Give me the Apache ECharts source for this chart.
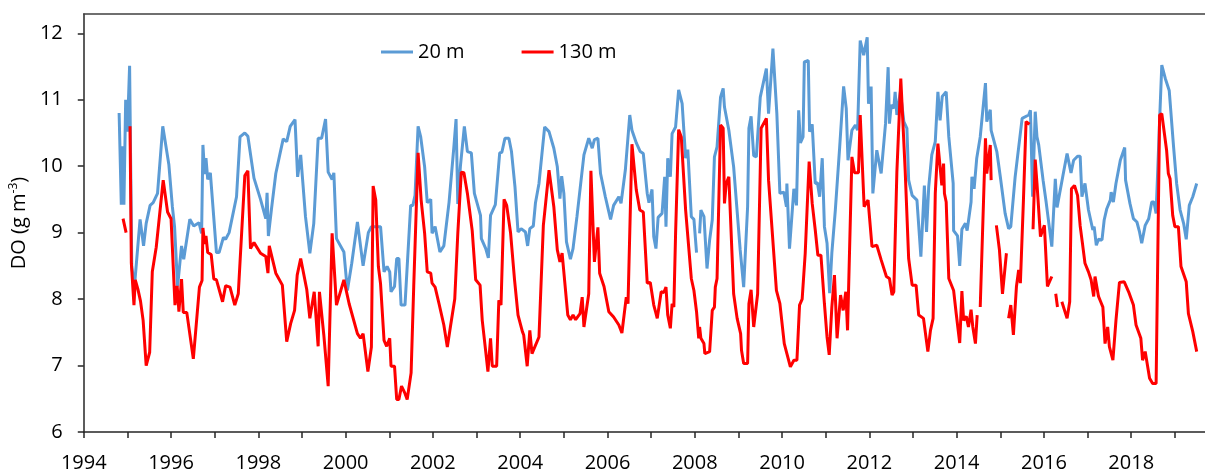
<!DOCTYPE html>
<html>
<head>
<meta charset="utf-8">
<title>DO</title>
<script src="https://cdn.jsdelivr.net/npm/echarts@6/dist/echarts.min.js"></script>
<style>
  html, body { margin: 0; padding: 0; background: #fff; }
  #chart { width: 1205px; height: 473px; }
</style>
</head>
<body>
<div id="chart"></div>
<script>
// Dissolved oxygen at two depths (g m-3), sampled through time (decimal year)
const seriesNames = ['20 m', '130 m'];

const t20 = [
  1994.81, 1994.86, 1994.88, 1994.92, 1994.96, 1995.00, 1995.05, 1995.10, 1995.16, 1995.29,
  1995.37, 1995.43, 1995.52, 1995.59, 1995.69, 1995.81, 1995.95, 1996.03, 1996.08, 1996.15,
  1996.24, 1996.29, 1996.43, 1996.52, 1996.64, 1996.70, 1996.73, 1996.77, 1996.80, 1996.84,
  1996.90, 1997.04, 1997.10, 1997.20, 1997.25, 1997.33, 1997.50, 1997.58, 1997.69, 1997.76,
  1997.90, 1998.05, 1998.17, 1998.20, 1998.23, 1998.30, 1998.40, 1998.50, 1998.57, 1998.65,
  1998.73, 1998.84, 1998.90, 1998.97, 1999.08, 1999.18, 1999.27, 1999.37, 1999.45, 1999.54,
  1999.60, 1999.69, 1999.73, 1999.79, 1999.96, 2000.04, 2000.14, 2000.27, 2000.40, 2000.52,
  2000.59, 2000.80, 2000.88, 2000.95, 2001.01, 2001.04, 2001.12, 2001.17, 2001.22, 2001.27,
  2001.36, 2001.49, 2001.54, 2001.59, 2001.66, 2001.72, 2001.81, 2001.87, 2001.95, 2001.98,
  2002.05, 2002.16, 2002.25, 2002.37, 2002.48, 2002.53, 2002.57, 2002.63, 2002.72, 2002.79,
  2002.88, 2002.95, 2003.09, 2003.11, 2003.21, 2003.27, 2003.32, 2003.43, 2003.53, 2003.58,
  2003.65, 2003.74, 2003.80, 2003.88, 2003.95, 2004.02, 2004.12, 2004.17, 2004.22, 2004.30,
  2004.35, 2004.43, 2004.56, 2004.66, 2004.77, 2004.85, 2004.91, 2004.95, 2005.00, 2005.06,
  2005.15, 2005.21, 2005.30, 2005.46, 2005.57, 2005.65, 2005.70, 2005.78, 2005.84, 2005.95,
  2006.07, 2006.14, 2006.26, 2006.31, 2006.41, 2006.51, 2006.56, 2006.66, 2006.75, 2006.82,
  2006.91, 2006.95, 2007.02, 2007.06, 2007.11, 2007.16, 2007.25, 2007.31, 2007.34, 2007.38,
  2007.44, 2007.48, 2007.56, 2007.63, 2007.71, 2007.79, 2007.84, 2007.92, 2007.98, 2008.04,
  2008.07, 2008.11, 2008.14, 2008.21, 2008.28, 2008.34, 2008.40, 2008.45, 2008.51, 2008.59,
  2008.65, 2008.68, 2008.72, 2008.78, 2008.89, 2009.04, 2009.12, 2009.21, 2009.24, 2009.29,
  2009.35, 2009.41, 2009.50, 2009.64, 2009.69, 2009.79, 2009.88, 2009.95, 2010.04, 2010.10,
  2010.11, 2010.17, 2010.27, 2010.33, 2010.38, 2010.42, 2010.48, 2010.51, 2010.60, 2010.63,
  2010.69, 2010.76, 2010.81, 2010.86, 2010.92, 2010.97, 2011.03, 2011.09, 2011.14, 2011.22,
  2011.32, 2011.41, 2011.47, 2011.51, 2011.60, 2011.68, 2011.73, 2011.79, 2011.87, 2011.95,
  2011.98, 2012.04, 2012.08, 2012.17, 2012.27, 2012.37, 2012.43, 2012.46, 2012.50, 2012.56,
  2012.59, 2012.63, 2012.71, 2012.79, 2012.86, 2012.90, 2012.98, 2013.09, 2013.18, 2013.26,
  2013.31, 2013.36, 2013.40, 2013.43, 2013.51, 2013.57, 2013.62, 2013.67, 2013.76, 2013.82,
  2013.92, 2013.93, 2014.02, 2014.07, 2014.12, 2014.16, 2014.20, 2014.24, 2014.33, 2014.35,
  2014.40, 2014.46, 2014.54, 2014.66, 2014.69, 2014.77, 2014.79, 2014.92, 2015.00, 2015.11,
  2015.19, 2015.24, 2015.34, 2015.50, 2015.65, 2015.69, 2015.74, 2015.80, 2015.84, 2015.88,
  2015.98, 2016.05, 2016.18, 2016.26, 2016.30, 2016.34, 2016.43, 2016.53, 2016.56, 2016.62,
  2016.68, 2016.72, 2016.77, 2016.83, 2016.87, 2016.94, 2017.02, 2017.12, 2017.15, 2017.20,
  2017.25, 2017.33, 2017.38, 2017.44, 2017.52, 2017.54, 2017.59, 2017.65, 2017.75, 2017.85,
  2017.87, 2017.97, 2018.05, 2018.13, 2018.19, 2018.24, 2018.32, 2018.40, 2018.47, 2018.52,
  2018.57, 2018.65, 2018.70, 2018.78, 2018.87, 2018.97, 2019.04, 2019.12, 2019.20, 2019.26,
  2019.33, 2019.41, 2019.50
];
const do20 = [
  10.80, 9.42, 10.30, 9.42, 11.00, 10.52, 11.51, 8.49, 8.18, 9.20,
  8.80, 9.14, 9.41, 9.45, 9.59, 10.60, 10.02, 9.39, 9.09, 8.19,
  8.80, 8.60, 9.20, 9.10, 9.15, 8.99, 10.32, 9.88, 10.12, 9.80,
  9.90, 8.70, 8.70, 8.93, 8.90, 9.00, 9.54, 10.44, 10.50, 10.45,
  9.82, 9.50, 9.21, 9.60, 8.95, 9.35, 9.89, 10.20, 10.41, 10.37,
  10.60, 10.70, 9.84, 10.17, 9.24, 8.69, 9.14, 10.42, 10.42, 10.71,
  9.91, 9.80, 9.90, 8.91, 8.71, 8.13, 8.54, 9.16, 8.50, 9.00,
  9.09, 9.09, 8.41, 8.49, 8.41, 8.11, 8.19, 8.61, 8.61, 7.91,
  7.91, 9.41, 9.41, 9.56, 10.60, 10.44, 9.99, 9.45, 9.50, 8.99,
  9.09, 8.71, 8.80, 9.46, 10.29, 10.71, 9.43, 10.00, 10.60, 10.22,
  10.20, 9.59, 9.26, 8.91, 8.76, 8.62, 9.26, 9.42, 10.20, 10.21,
  10.42, 10.42, 10.22, 9.69, 9.01, 9.06, 9.01, 8.80, 9.06, 9.10,
  9.45, 9.74, 10.59, 10.52, 10.27, 9.99, 9.51, 9.85, 9.59, 8.86,
  8.60, 8.76, 9.24, 10.17, 10.42, 10.27, 10.40, 10.42, 9.89, 9.54,
  9.20, 9.41, 9.54, 9.44, 9.95, 10.77, 10.54, 10.35, 10.22, 10.19,
  9.59, 9.45, 9.65, 8.94, 8.76, 9.23, 9.29, 9.84, 9.09, 10.12,
  9.84, 10.49, 10.59, 11.15, 10.94, 10.12, 10.25, 9.24, 9.20, 8.70,
  null, 8.99, 9.34, 9.24, 8.46, 8.89, 9.19, 10.14, 10.29, 11.04,
  11.17, 10.89, 10.90, 10.54, 9.99, 8.74, 8.18, 9.39, 10.57, 10.75,
  10.16, 10.14, 11.04, 11.47, 10.79, 11.77, 10.79, 9.59, 9.61, 9.39,
  9.74, 8.76, 9.66, 9.41, 10.84, 10.35, 10.44, 11.57, 11.59, 10.52,
  10.63, 9.74, 9.75, 9.54, 10.12, 9.09, 8.84, 8.09, 8.69, 9.34,
  10.29, 11.20, 10.87, 10.09, 10.54, 10.62, 10.54, 11.89, 11.67, 11.94,
  10.94, 11.20, 9.59, 10.24, 9.89, 10.64, 11.49, 10.64, 10.92, 10.87,
  11.12, 10.77, 11.12, 10.67, 10.57, 9.79, 9.56, 9.49, 8.64, 9.71,
  9.01, 9.69, 9.69, 10.17, 10.37, 11.12, 10.69, 11.05, 11.12, 10.44,
  9.74, 9.03, 8.95, 8.50, 9.05, 9.03, 9.14, 9.03, 9.46, 9.84,
  9.66, 10.12, 10.44, 11.25, 10.67, 10.85, 10.54, 10.22, 9.84, 9.29,
  9.06, 9.09, 9.84, 10.72, 10.77, 10.84, 9.54, 10.82, 10.44, 10.32,
  9.79, 9.46, 8.79, 9.81, 9.38, 9.39, 9.84, 10.19, 10.17, 9.90,
  10.09, 10.07, 10.15, 10.15, 9.54, 9.74, 9.34, 9.04, 9.09, 8.81,
  8.90, 8.89, 9.19, 9.36, 9.49, 9.61, 9.46, 9.74, 10.09, 10.28,
  9.79, 9.44, 9.21, 9.16, 9.01, 8.84, 9.11, 9.21, 9.46, 9.46,
  9.29, 10.69, 11.52, 11.32, 11.14, 10.29, 9.74, 9.34, 9.14, 8.90,
  9.41, 9.54, 9.74
];

const t130 = [
  1994.90, 1994.97, 1995.01, 1995.06, 1995.09, 1995.15, 1995.18, 1995.24, 1995.30, 1995.36,
  1995.43, 1995.51, 1995.57, 1995.66, 1995.82, 1995.92, 1996.00, 1996.09, 1996.14, 1996.18,
  1996.24, 1996.28, 1996.36, 1996.51, 1996.65, 1996.71, 1996.73, 1996.77, 1996.80, 1996.84,
  1996.92, 1996.98, 1997.04, 1997.18, 1997.25, 1997.35, 1997.46, 1997.54, 1997.69, 1997.76,
  1997.82, 1997.90, 1998.05, 1998.17, 1998.22, 1998.25, 1998.40, 1998.55, 1998.65, 1998.74,
  1998.83, 1998.89, 1998.97, 1999.11, 1999.18, 1999.28, 1999.37, 1999.40, 1999.50, 1999.60,
  1999.69, 1999.79, 1999.96, 2000.08, 2000.27, 2000.34, 2000.40, 2000.51, 2000.59, 2000.63,
  2000.69, 2000.75, 2000.80, 2000.88, 2000.94, 2001.01, 2001.04, 2001.12, 2001.17, 2001.22,
  2001.28, 2001.36, 2001.41, 2001.50, 2001.56, 2001.66, 2001.73, 2001.81, 2001.87, 2001.95,
  2001.98, 2002.05, 2002.14, 2002.25, 2002.33, 2002.40, 2002.50, 2002.57, 2002.65, 2002.71,
  2002.79, 2002.90, 2002.98, 2003.08, 2003.13, 2003.21, 2003.26, 2003.32, 2003.36, 2003.46,
  2003.51, 2003.56, 2003.63, 2003.69, 2003.78, 2003.87, 2003.95, 2004.05, 2004.08, 2004.16,
  2004.22, 2004.27, 2004.43, 2004.53, 2004.66, 2004.77, 2004.85, 2004.91, 2004.96, 2005.09,
  2005.15, 2005.21, 2005.27, 2005.37, 2005.42, 2005.46, 2005.57, 2005.62, 2005.70, 2005.78,
  2005.82, 2005.92, 2006.03, 2006.14, 2006.26, 2006.33, 2006.43, 2006.47, 2006.56, 2006.66,
  2006.74, 2006.82, 2006.91, 2006.98, 2007.06, 2007.10, 2007.14, 2007.23, 2007.29, 2007.34,
  2007.38, 2007.44, 2007.48, 2007.52, 2007.56, 2007.63, 2007.69, 2007.79, 2007.92, 2007.98,
  2008.04, 2008.09, 2008.11, 2008.14, 2008.21, 2008.23, 2008.34, 2008.40, 2008.45, 2008.47,
  2008.51, 2008.59, 2008.65, 2008.68, 2008.72, 2008.78, 2008.89, 2008.97, 2009.05, 2009.07,
  2009.12, 2009.21, 2009.24, 2009.29, 2009.35, 2009.44, 2009.52, 2009.64, 2009.69, 2009.73,
  2009.87, 2009.95, 2010.05, 2010.11, 2010.19, 2010.27, 2010.34, 2010.40, 2010.46, 2010.53,
  2010.62, 2010.69, 2010.76, 2010.82, 2010.89, 2010.97, 2011.03, 2011.08, 2011.14, 2011.20,
  2011.26, 2011.34, 2011.40, 2011.46, 2011.50, 2011.60, 2011.66, 2011.75, 2011.79, 2011.88,
  2011.97, 2012.06, 2012.17, 2012.27, 2012.39, 2012.46, 2012.52, 2012.56, 2012.63, 2012.72,
  2012.82, 2012.90, 2012.98, 2013.07, 2013.13, 2013.24, 2013.34, 2013.40, 2013.46, 2013.51,
  2013.57, 2013.66, 2013.70, 2013.72, 2013.76, 2013.82, 2013.93, 2013.99, 2014.07, 2014.12,
  2014.16, 2014.22, 2014.27, 2014.33, 2014.37, 2014.43, 2014.47, 2014.50, 2014.54, 2014.66,
  2014.69, 2014.77, 2014.79, 2014.85, 2014.91, 2014.98, 2015.05, 2015.14, 2015.17, 2015.19,
  2015.24, 2015.30, 2015.37, 2015.42, 2015.46, 2015.53, 2015.59, 2015.67, 2015.71, 2015.75,
  2015.80, 2015.84, 2015.92, 2016.01, 2016.08, 2016.18, 2016.22, 2016.27, 2016.31, 2016.36,
  2016.41, 2016.53, 2016.59, 2016.63, 2016.70, 2016.77, 2016.83, 2016.88, 2016.94, 2017.02,
  2017.08, 2017.14, 2017.17, 2017.21, 2017.25, 2017.30, 2017.35, 2017.40, 2017.46, 2017.50,
  2017.58, 2017.65, 2017.73, 2017.84, 2017.94, 2018.05, 2018.11, 2018.22, 2018.26, 2018.32,
  2018.36, 2018.42, 2018.49, 2018.57, 2018.65, 2018.70, 2018.81, 2018.85, 2018.89, 2018.95,
  2019.00, 2019.08, 2019.14, 2019.26, 2019.31, 2019.41, 2019.50
];
const do130 = [
  9.21, 9.00, null, 10.60, 8.54, 7.91, 8.29, 8.15, 7.97, 7.68,
  7.00, 7.20, 8.41, 8.78, 9.79, 9.31, 9.21, 7.91, 8.20, 7.81,
  8.30, 7.80, 7.80, 7.10, 8.18, 8.28, 9.07, 8.83, 8.95, 8.70,
  8.67, 8.30, 8.29, 7.96, 8.20, 8.18, 7.91, 8.08, 9.86, 9.93,
  8.76, 8.85, 8.69, 8.64, 8.39, 8.80, 8.39, 8.21, 7.36, 7.63,
  7.83, 8.36, 8.61, 8.14, 7.71, 8.11, 7.29, 8.11, 7.46, 6.69,
  8.99, 7.91, 8.29, 7.93, 7.48, 7.41, 7.48, 6.91, 7.28, 9.70,
  9.49, 8.49, 8.23, 7.38, 7.29, 7.41, 6.99, 6.99, 6.49, 6.49,
  6.69, 6.58, 6.49, 6.89, 8.19, 10.20, 9.49, 8.99, 8.41, 8.39,
  8.24, 8.18, 7.93, 7.61, 7.28, 7.58, 8.00, 8.99, 9.91, 9.90,
  9.59, 9.03, 8.29, 8.21, 7.68, 7.21, 6.91, 7.41, 6.99, 6.99,
  7.98, 7.91, 9.50, 9.41, 8.99, 8.29, 7.76, 7.51, 7.46, 6.99,
  7.53, 7.18, 7.43, 9.11, 9.94, 9.39, 8.74, 8.56, 8.69, 7.76,
  7.69, 7.76, 7.69, 7.78, 8.03, 7.58, 8.08, 9.93, 8.56, 9.08,
  8.39, 8.19, 7.81, 7.73, 7.61, 7.49, 8.03, 7.93, 10.33, 9.64,
  9.34, 9.31, 8.24, 8.25, 7.91, 7.81, 7.71, 8.11, 8.10, 8.18,
  7.76, 7.56, 7.93, 7.88, 8.99, 10.55, 10.44, 9.34, 8.31, 8.13,
  7.81, 7.41, 7.58, 7.41, 7.33, 7.18, 7.21, 7.83, 7.88, 8.18,
  8.31, 10.62, 10.57, 9.44, 9.74, 9.84, 8.08, 7.71, 7.48, 7.23,
  7.03, 7.03, 7.93, 8.14, 7.58, 8.08, 10.57, 10.72, 9.79, 9.79,
  8.13, 7.93, 7.33, 7.18, 6.98, 7.08, 7.08, 7.91, 8.00, 8.69,
  10.07, 9.44, 9.04, 8.66, 8.66, 7.93, 7.43, 7.16, 7.88, 8.36,
  7.41, 8.06, 7.83, 8.11, 7.53, 10.14, 9.90, 9.90, 10.77, 9.39,
  9.49, 8.79, 8.81, 8.59, 8.34, 8.31, 8.06, 8.11, 9.91, 11.32,
  9.94, 8.61, 8.21, 8.21, 7.76, 7.71, 7.21, 7.53, 7.71, 9.59,
  10.34, 9.71, 10.04, 9.59, 9.46, 8.31, 8.13, 7.78, 7.34, 8.12,
  7.68, 7.74, 7.58, 7.84, 7.58, 7.33, 7.76, null, 7.88, 10.42,
  9.89, 10.32, 9.79, null, 9.11, 8.74, 8.08, 8.69, null, 7.71,
  7.91, 7.46, 8.19, 8.44, 8.24, 9.49, 10.67, 10.63, null, 9.05,
  10.10, 9.74, 8.94, 9.11, 8.19, 8.34, null, 8.08, 7.88, null,
  7.96, 7.71, 7.96, 9.66, 9.71, 9.56, 9.10, 8.85, 8.54, 8.41,
  8.29, 8.04, 8.34, 8.19, 8.04, 7.96, 7.88, 7.33, 7.58, 7.28,
  7.08, 7.68, 8.25, 8.26, 8.11, 7.91, 7.61, 7.41, 7.08, 7.21,
  7.23, 6.81, 6.73, 6.73, 10.77, 10.79, 10.24, 9.89, 9.81, 9.26,
  9.09, 9.09, 8.49, 8.26, 7.78, 7.51, 7.21
];

const yearLabels = [1994, 1996, 1998, 2000, 2002, 2004, 2006, 2008, 2010, 2012, 2014, 2016, 2018];
const yearTicks = [1994, 1995, 1996, 1997, 1998, 1999, 2000, 2001, 2002, 2003, 2004, 2005, 2006,
  2007, 2008, 2009, 2010, 2011, 2012, 2013, 2014, 2015, 2016, 2017, 2018, 2019];
const doTicks = [6, 7, 8, 9, 10, 11, 12];

const pairs = (ts, vs) => ts.map((t, i) => [t, vs[i]]);

const FONT = 'Open Sans';
const AXIS_COLOR = '#262626';

const chart = echarts.init(document.getElementById('chart'), null, { renderer: 'canvas' });
chart.setOption({
  animation: false,
  backgroundColor: '#fff',
  textStyle: { fontFamily: FONT },
  grid: { left: 83, right: 0, top: 14, bottom: 41 },
  legend: {
    data: seriesNames,
    left: 376, top: 37,
    icon: 'rect', itemWidth: 32, itemHeight: 3, itemGap: 57,
    textStyle: { fontSize: 20, color: '#000', fontFamily: FONT }
  },
  xAxis: [
    {
      type: 'value',
      min: 1994, max: 2019.69,
      axisLine: { show: true, onZero: false, lineStyle: { color: AXIS_COLOR, width: 1.5 } },
      axisTick: { show: true, customValues: yearTicks, length: 6, lineStyle: { color: AXIS_COLOR, width: 1.5 } },
      axisLabel: {
        customValues: yearLabels, margin: 21,
        fontSize: 20, color: '#000', fontFamily: FONT,
        formatter: v => String(v)
      },
      splitLine: { show: false }
    },
    {
      // top frame line of the plot area
      type: 'value', position: 'top',
      min: 1994, max: 2019.69,
      axisLine: { show: true, onZero: false, lineStyle: { color: '#404040', width: 1.5 } },
      axisTick: { show: false },
      axisLabel: { show: false },
      splitLine: { show: false }
    }
  ],
  yAxis: {
    type: 'value',
    min: 6, max: 12.29,
    name: 'DO (g m{sup|-3})',
    nameLocation: 'middle', nameRotate: 90, nameGap: 46,
    nameTextStyle: {
      fontSize: 20, color: '#000', fontFamily: FONT,
      rich: { sup: { fontSize: 12, fontFamily: FONT, color: '#000', verticalAlign: 'top', padding: [0, 0, 10, 0] } }
    },
    axisLine: { show: true, lineStyle: { color: AXIS_COLOR, width: 1.5 } },
    axisTick: { show: true, customValues: doTicks, length: 6, lineStyle: { color: AXIS_COLOR, width: 1.5 } },
    axisLabel: {
      customValues: doTicks, margin: 21,
      fontSize: 20, color: '#000', fontFamily: FONT
    },
    splitLine: { show: false }
  },
  series: [
    {
      name: seriesNames[0], type: 'line', data: pairs(t20, do20),
      symbol: 'none', showSymbol: false, connectNulls: false,
      color: '#5B9BD5', lineStyle: { width: 3, color: '#5B9BD5' }
    },
    {
      name: seriesNames[1], type: 'line', data: pairs(t130, do130),
      symbol: 'none', showSymbol: false, connectNulls: false,
      color: '#FF0000', lineStyle: { width: 3, color: '#FF0000' }
    }
  ]
});
</script>
</body>
</html>
